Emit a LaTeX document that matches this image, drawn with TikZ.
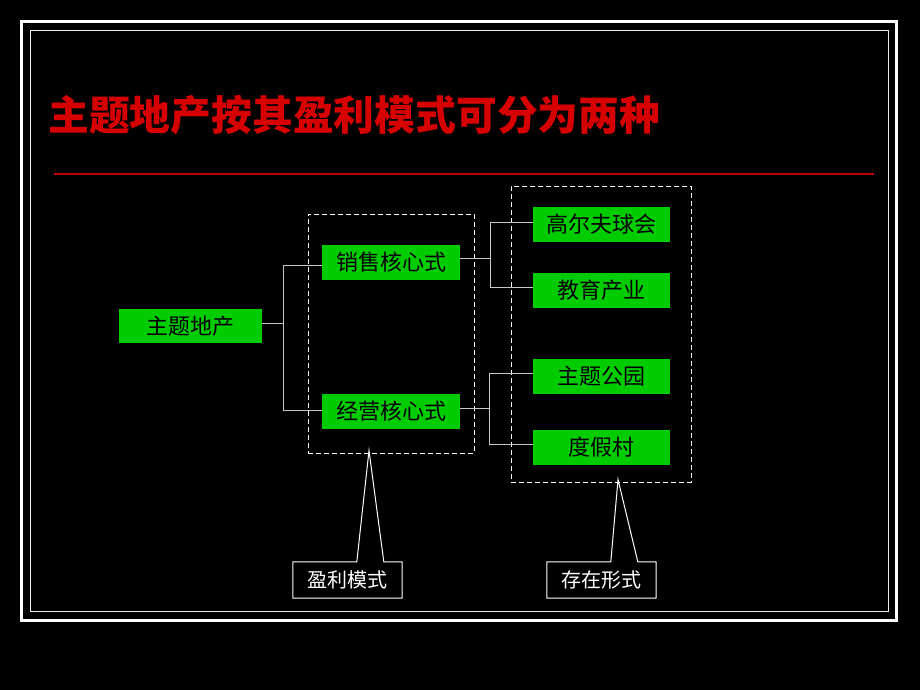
\documentclass[tikz,border=0pt]{standalone}
\usepackage{fontspec}
\usepackage{xcolor}
\setmainfont{Noto Sans CJK SC}
\newfontfamily\cjk{Noto Sans CJK SC}
\definecolor{boxgreen}{RGB}{0,204,0}
\definecolor{titlered}{RGB}{214,0,0}
\definecolor{rulered}{RGB}{190,0,0}
\definecolor{linkgray}{RGB}{200,200,200}

\begin{document}
\begin{tikzpicture}[x=1pt,y=-1pt,
  item/.style={fill=boxgreen,draw=none,inner sep=0pt,minimum width=138pt,minimum height=35pt,
    font=\cjk\fontsize{22}{22}\selectfont,text=black},
  link/.style={linkgray,line width=1pt},
  group/.style={draw=white,line width=1pt,dash pattern=on 5pt off 3pt,inner sep=0pt},
  tag/.style={inner sep=0pt,minimum width=109pt,minimum height=36pt,
    font=\cjk\fontsize{20}{20}\selectfont,text=white},
  outline/.style={white,line width=1pt}]
\fill[black] (0,0) rectangle (920,690);
\useasboundingbox (0,0) rectangle (920,690);
\draw[white,line width=3pt] (21.5,21.5) rectangle (896.5,620.5);
\draw[white!85!gray,line width=1pt] (30.5,30.5) rectangle (888.5,611);

% title
\node[anchor=west,inner sep=0pt,text=titlered,font=\cjk\bfseries\fontsize{40.8}{40.8}\selectfont] (title) at (48,115) {主题地产按其盈利模式可分为两种};
\draw[rulered,line width=1.2pt] (54,174) -- (874,174);

% dashed groups
\node[group,minimum width=166pt,minimum height=239pt] (modes) at (391,333.5) {};
\node[group,minimum width=180pt,minimum height=296pt] (forms) at (601,334) {};

% boxes
\node[item,minimum width=143pt,minimum height=34pt] (topic) at (190.5,326) {主题地产};
\node[item] (sell) at (391,262) {销售核心式};
\node[item] (run) at (391,411.5) {经营核心式};
\node[item,minimum width=137pt] (golf) at (601.5,224.5) {高尔夫球会};
\node[item,minimum width=137pt] (edu) at (601.5,290) {教育产业};
\node[item,minimum width=137pt] (park) at (601.5,376.5) {主题公园};
\node[item,minimum width=137pt] (resort) at (601.5,447.5) {度假村};

% connectors
\draw[link] ([yshift=3]topic.east) -- ++(21,0) coordinate (j1);
\draw[link] (j1) |- ([yshift=-3]sell.west);
\draw[link] (j1) |- ([yshift=1.5]run.west);
\draw[link] ([yshift=4]sell.east) -- ++(30,0) coordinate (j2);
\draw[link] (j2) |- ([yshift=2.5]golf.west);
\draw[link] (j2) |- ([yshift=3]edu.west);
\draw[link] ([yshift=3]run.east) -- ++(29,0) coordinate (j3);
\draw[link] (j3) |- ([yshift=3.5]park.west);
\draw[link] (j3) |- ([yshift=3.5]resort.west);

% callouts
\node[tag] (mode) at (347.5,580) {盈利模式};
\node[tag] (form) at (601.5,580) {存在形式};
\coordinate (modetip) at ([xshift=-22,yshift=3]modes.south);
\coordinate (formtip) at ([xshift=17,yshift=3]forms.south);
\draw[outline] (mode.north west) -- ++(64,0) -- (modetip) -- ([xshift=91]mode.north west)
  -- (mode.north east) -- (mode.south east) -- (mode.south west) -- cycle;
\draw[outline] (form.north west) -- ++(64,0) -- (formtip) -- ([xshift=91]form.north west)
  -- (form.north east) -- (form.south east) -- (form.south west) -- cycle;
\end{tikzpicture}
\end{document}
